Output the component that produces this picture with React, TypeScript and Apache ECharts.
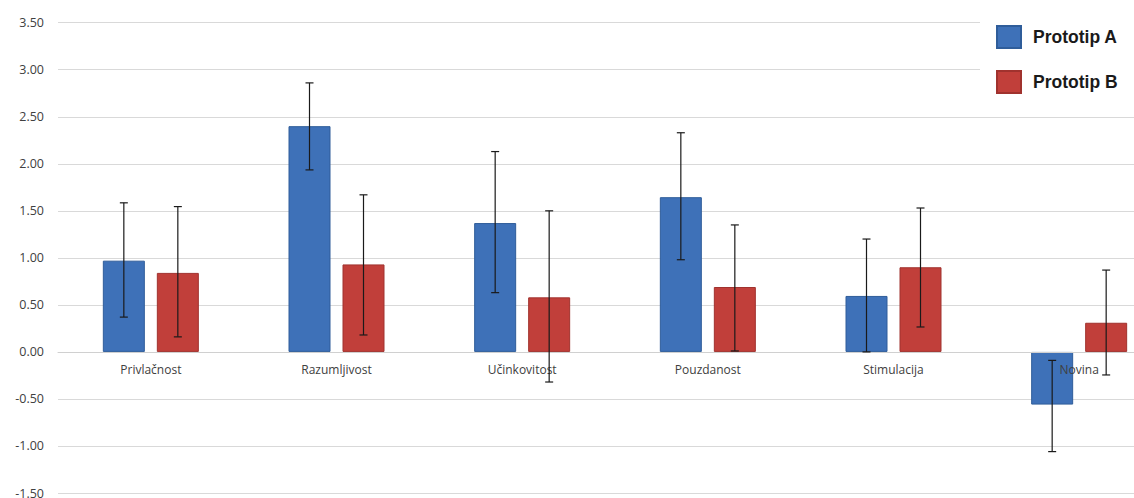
import React, { useEffect, useRef } from "react";
import * as echarts from "echarts";

const categories = ["Privlačnost", "Razumljivost", "Učinkovitost", "Pouzdanost", "Stimulacija", "Novina"];
const seriesNames = ["Prototip A", "Prototip B"];
const valuesA = [0.97, 2.4, 1.37, 1.645, 0.595, -0.56];
const valuesB = [0.84, 0.93, 0.58, 0.69, 0.9, 0.31];
const errLowA = [0.37, 1.935, 0.63, 0.98, 0.0, -1.06];
const errHighA = [1.585, 2.86, 2.13, 2.33, 1.2, -0.09];
const errLowB = [0.16, 0.18, -0.32, 0.01, 0.265, -0.245];
const errHighB = [1.545, 1.67, 1.5, 1.35, 1.53, 0.87];

const BAR_W = 42;
const BAR_GAP = 12;

function errorSeries(low: number[], high: number[], offset: number) {
  return {
    type: "custom",
    silent: true,
    z: 5,
    encode: { x: 0, y: [1, 2] },
    data: low.map((l, i) => [i, l, high[i]]),
    renderItem: (params: any, api: any) => {
      const idx = api.value(0);
      const lo = api.coord([idx, api.value(1)]);
      const hi = api.coord([idx, api.value(2)]);
      const x = lo[0] + offset;
      const cap = 4;
      const style = { stroke: "#1a1a1a", lineWidth: 1.2 };
      return {
        type: "group",
        children: [
          { type: "line", shape: { x1: x, y1: lo[1], x2: x, y2: hi[1] }, style },
          { type: "line", shape: { x1: x - cap, y1: lo[1], x2: x + cap, y2: lo[1] }, style },
          { type: "line", shape: { x1: x - cap, y1: hi[1], x2: x + cap, y2: hi[1] }, style },
        ],
      };
    },
  };
}

export default function App() {
  const ref = useRef<HTMLDivElement>(null);
  useEffect(() => {
    if (!ref.current) return;
    const chart = echarts.init(ref.current, undefined, { renderer: "svg" });
    const off = (BAR_W + BAR_GAP) / 2;
    chart.setOption({
      animation: false,
      backgroundColor: "#ffffff",
      grid: { left: 58, right: 0, top: 22.7, bottom: 5, containLabel: false, outerBoundsMode: "none" },
      legend: {
        orient: "vertical",
        left: 980,
        top: 11,
        padding: [14, 40, 10, 16],
        backgroundColor: "#ffffff",
        itemWidth: 24,
        itemHeight: 22,
        itemGap: 21,
        icon: "rect",
        data: seriesNames,
        textStyle: {
          fontFamily: "Liberation Sans, Arial, sans-serif",
          fontWeight: "bold",
          fontSize: 17.5,
          color: "#1a1a1a",
          padding: [0, 0, 0, 7],
        },
        z: 10,
      },
      xAxis: {
        type: "category",
        data: categories,
        axisTick: { show: false },
        axisLine: { onZero: true, lineStyle: { color: "#d0d0d0", width: 1 } },
        axisLabel: { show: false },
        z: 3,
      },
      yAxis: {
        type: "value",
        min: -1.5,
        max: 3.5,
        interval: 0.5,
        axisLine: { show: false },
        axisTick: { show: false },
        splitLine: { lineStyle: { color: "#d9d9d9", width: 1 } },
        axisLabel: {
          margin: 14,
          color: "#404040",
          fontSize: 12.5,
          fontFamily: "Open Sans, sans-serif",
          formatter: (v: number) => v.toFixed(2),
        },
      },
      series: [
        {
          name: seriesNames[0],
          type: "bar",
          data: valuesA,
          barWidth: BAR_W,
          barGap: `${(BAR_GAP / BAR_W) * 100}%`,
          itemStyle: { color: "#3e71b8", borderColor: "#2f5d9a", borderWidth: 1 },
        },
        {
          name: seriesNames[1],
          type: "bar",
          data: valuesB,
          barWidth: BAR_W,
          barGap: `${(BAR_GAP / BAR_W) * 100}%`,
          itemStyle: { color: "#c13f3a", borderColor: "#a0322e", borderWidth: 1 },
        },
        errorSeries(errLowA, errHighA, -off),
        errorSeries(errLowB, errHighB, off),
        {
          type: "custom",
          silent: true,
          z: 4,
          encode: { x: 0, y: 1 },
          data: categories.map((_, i) => [i, 0]),
          renderItem: (params: any, api: any) => {
            const p = api.coord([api.value(0), 0]);
            return {
              type: "text",
              x: p[0],
              y: p[1] + 18,
              style: {
                text: categories[params.dataIndex],
                align: "center",
                verticalAlign: "middle",
                fill: "#404040",
                fontSize: 12,
                fontFamily: "Open Sans, sans-serif",
              },
            };
          },
        },
      ],
    });
    return () => chart.dispose();
  }, []);
  return (
    <div style={{ position: "fixed", left: 0, top: 0, width: 1134, height: 498, overflow: "hidden", background: "#fff" }}>
      <div ref={ref} style={{ width: 1172, height: 498 }} />
    </div>
  );
}
